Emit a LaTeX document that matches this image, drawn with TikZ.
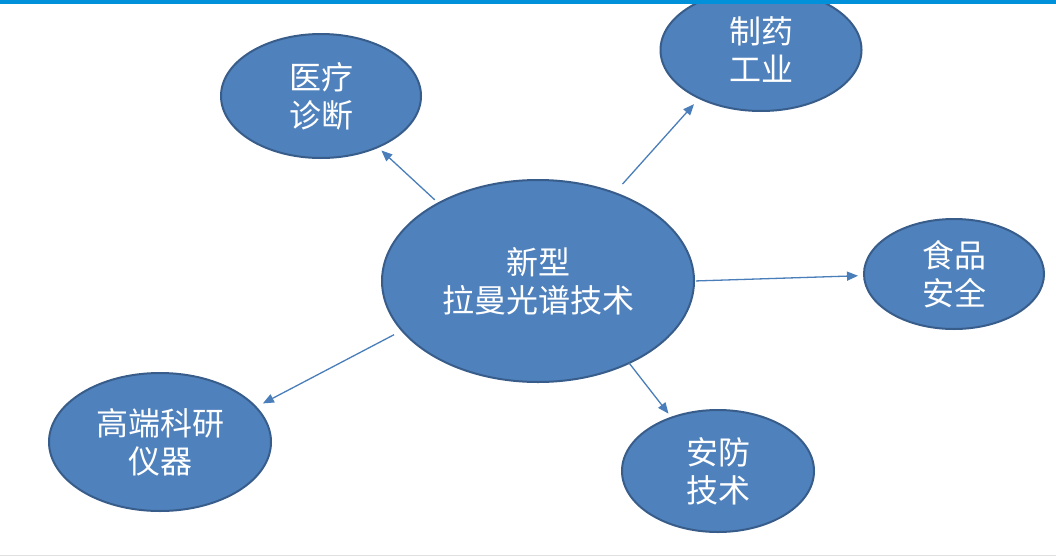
\documentclass[tikz,border=0pt]{standalone}
\usepackage{fontspec}
\setmainfont{Noto Sans CJK SC}
\definecolor{topbar}{HTML}{0091DA}
\definecolor{bubblefill}{HTML}{4F81BD}
\definecolor{bubblerim}{HTML}{385D8A}
\definecolor{linkblue}{HTML}{4A7EBB}
\usetikzlibrary{arrows.meta, shapes.geometric}
\tikzset{
  bubble/.style={ellipse, fill=bubblefill, draw=bubblerim, line width=2pt,
    inner sep=0pt, outer sep=0pt, text=white, align=center,
    font=\fontsize{32}{38}\selectfont},
  link/.style={linkblue, line width=1.3pt, -{Triangle[length=11pt,width=9pt]}}
}

\begin{document}
\begin{tikzpicture}[x=1pt, y=-1pt]
  \useasboundingbox (0,0) rectangle (1056,557);
  \clip (0,0) rectangle (1056,557);
  \fill[white] (0,0) rectangle (1056,557);

  \node[bubble, minimum width=312pt, minimum height=202pt] (hub) at (538,281) {新型\\拉曼光谱技术};
  \node[bubble, minimum width=200pt, minimum height=124pt] (med) at (321,96) {医疗\\诊断};
  \node[bubble, minimum width=201pt, minimum height=122pt] (pharma) at (761,50) {制药\\工业};
  \node[bubble, minimum width=180pt, minimum height=110pt] (food) at (954,274) {食品\\安全};
  \node[bubble, minimum width=192pt, minimum height=122pt] (guard) at (718,471) {安防\\技术};
  \node[bubble, minimum width=222pt, minimum height=138pt] (instr) at (160,442) {高端科研\\仪器};

  \draw[link, shorten <=5pt, shorten >=5pt] (hub.142.6) -- (med.-42);
  \draw[link, shorten <=12pt, shorten >=8pt] (hub.49) -- (pharma.218);
  \draw[link, shorten <=2pt, shorten >=6pt] (hub.0) -- (food.181);
  \draw[link, shorten >=5pt] (hub.-42) -- (guard.131);
  \draw[link, shorten <=9pt, shorten >=8pt] (hub.200) -- (instr.20.7);

  % slide frame
  \fill[topbar] (0,0) rectangle (1056,3.5);
  \draw[black!12, line width=1pt] (0,555.5) -- (1056,555.5);
\end{tikzpicture}
\end{document}
